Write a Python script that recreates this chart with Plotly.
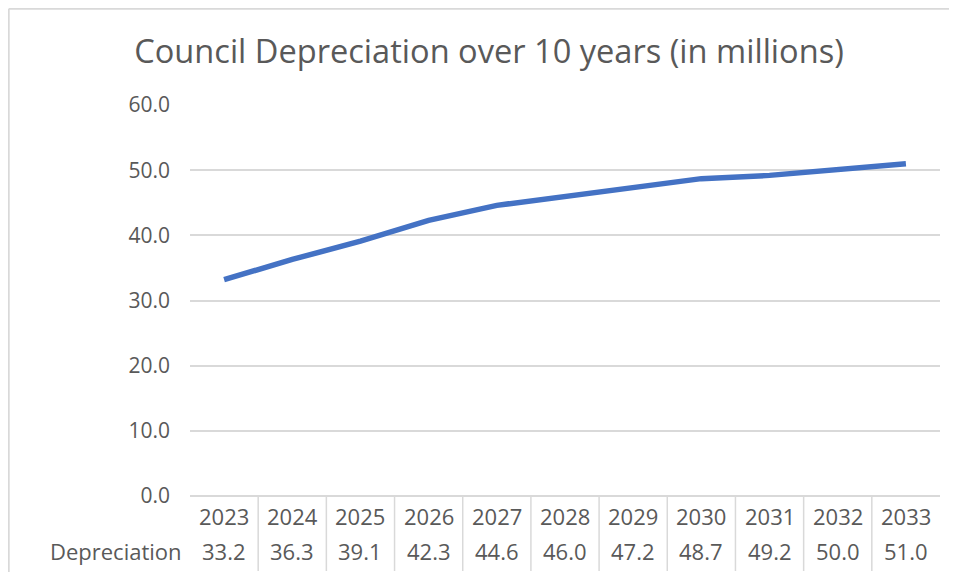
import plotly.graph_objects as go

years = ["2023", "2024", "2025", "2026", "2027", "2028", "2029", "2030", "2031", "2032", "2033"]
depreciation = [33.2, 36.3, 39.1, 42.3, 44.6, 46.0, 47.2, 48.7, 49.2, 50.0, 51.0]
series_name = "Depreciation"
title = "Council Depreciation over 10 years (in millions)"
y_ticks = [0, 10, 20, 30, 40, 50, 60]

# the page body has an 8px margin: work in screen pixels and subtract it
OFF = 8
W, H = 957 - 2 * OFF, 580 - 2 * OFF
PL, PR, PT, PB = 190, 940, 105, 496  # plot area in screen pixels
L, R, T, B = PL - OFF, W - (PR - OFF), PT - OFF, H - (PB - OFF)
pw, ph = W - L - R, H - T - B

def xpaper(sx):
    return (sx - OFF - L) / pw

def ypaper(sy):
    return (H - B - (sy - OFF)) / ph

FONT = "Open Sans"
TXT = "#595959"
GRID = "#d9d9d9"

xs = list(range(len(years)))

fig = go.Figure()
fig.add_trace(go.Scatter(
    x=xs, y=depreciation, mode="lines", name=series_name,
    line=dict(color="#4472C4", width=5.5),
    hoverinfo="y",
))

annotations = []
shapes = []
row1 = ypaper(516)
row2 = ypaper(551)
for i, (yr, v) in enumerate(zip(years, depreciation)):
    annotations.append(dict(x=i, y=row1, xref="x", yref="paper", text=yr, showarrow=False,
                            font=dict(family=FONT, size=22, color=TXT), xanchor="center", yanchor="middle"))
    annotations.append(dict(x=i, y=row2, xref="x", yref="paper", text=f"{v:.1f}", showarrow=False,
                            font=dict(family=FONT, size=22, color=TXT), xanchor="center", yanchor="middle"))
    if i > 0:
        shapes.append(dict(type="line", xref="x", yref="paper", x0=i - 0.5, x1=i - 0.5,
                           y0=0, y1=ypaper(571), line=dict(color=GRID, width=1.5)))
annotations.append(dict(x=xpaper(184), y=row2, xref="paper", yref="paper", text=series_name,
                        showarrow=False, font=dict(family=FONT, size=22, color=TXT),
                        xanchor="right", yanchor="middle"))

# outer chart border (top and left edges visible)
shapes.append(dict(type="line", xref="paper", yref="paper",
                   x0=xpaper(8.8), x1=xpaper(8.8), y0=ypaper(8.8), y1=ypaper(572),
                   line=dict(color=GRID, width=1.8), layer="below"))
shapes.append(dict(type="line", xref="paper", yref="paper",
                   x0=xpaper(8.8), x1=xpaper(949), y0=ypaper(8.8), y1=ypaper(8.8),
                   line=dict(color=GRID, width=1.8), layer="below"))

fig.update_layout(
    width=W, height=H,
    margin=dict(l=L, r=R, t=T, b=B),
    paper_bgcolor="white", plot_bgcolor="white",
    showlegend=False,
    title=dict(text=title, x=(489 - OFF) / W, xanchor="center", y=1 - (52 - OFF) / H, yanchor="middle",
               xref="container", yref="container",
               font=dict(family=FONT, size=32.6, color=TXT)),
    xaxis=dict(range=[-0.5, len(years) - 0.5], showticklabels=False, showgrid=False,
               zeroline=False, showline=False, ticks=""),
    yaxis=dict(range=[0, 60], tickvals=y_ticks, tickformat=".1f", showgrid=True,
               gridcolor=GRID, gridwidth=1.5, zeroline=True, zerolinecolor=GRID, zerolinewidth=1.5,
               showline=False, ticks="", ticklabelstandoff=19,
               tickfont=dict(family=FONT, size=21, color=TXT)),
    annotations=annotations,
    shapes=shapes,
)

fig.write_html("out.html")
